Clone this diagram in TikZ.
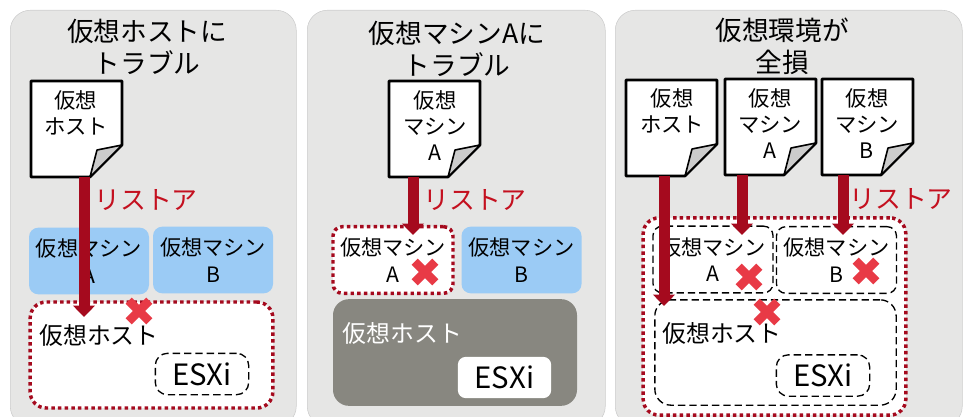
\documentclass[tikz,border=0pt]{standalone}
\usepackage{fontspec}
\setmainfont{Noto Sans CJK JP}
\usetikzlibrary{arrows.meta,shapes.misc}
\definecolor{panelGray}{HTML}{E6E6E5}
\definecolor{vmBlue}{HTML}{9BCBF5}
\definecolor{restoreRed}{HTML}{A50A1E}
\definecolor{labelRed}{HTML}{C4101F}
\definecolor{crossRed}{HTML}{E83A46}
\definecolor{hostGray}{HTML}{888780}
\tikzset{
  panel/.style={draw=black!20, fill=panelGray, rounded corners=15pt, minimum width=#1, minimum height=312pt, inner sep=0pt},
  title/.style={font=\fontsize{20pt}{24pt}\selectfont, align=center},
  docbox/.style={minimum width=68.25pt, minimum height=72pt, inner sep=0pt},
  doctext/.style={font=\fontsize{16pt}{19.5pt}\selectfont, align=center, inner sep=0pt},
  vmtext/.style={font=\fontsize{15.9pt}{20pt}\selectfont, align=center, minimum width=90pt, minimum height=50pt, inner sep=0pt, rounded corners=7pt},
  vmfill/.style={vmtext, fill=vmBlue},
  dotbox/.style={draw=restoreRed, fill=white, line width=2.6pt, dash pattern=on 2.6pt off 2.4pt, rounded corners=12pt, inner sep=0pt},
  dashbox/.style={draw=black, fill=white, line width=1pt, dash pattern=on 5.5pt off 3pt, rounded corners=9pt, inner sep=0pt},
  hostlabel/.style={font=\fontsize{17.9pt}{20pt}\selectfont, inner sep=0pt},
  esxi/.style={font=\fontsize{22pt}{24pt}\selectfont, minimum width=70pt, minimum height=31pt, inner sep=0pt},
  restore/.style={draw=restoreRed, line width=8.25pt, -{Triangle[length=8.5pt, width=16pt]}},
  restorelabel/.style={font=\fontsize{19.4pt}{22pt}\selectfont, text=labelRed, inner sep=0pt},
  crossmark/.style={cross out, draw=crossRed, line width=6.5pt, minimum size=9pt, inner sep=0pt},
}
\begin{document}
\begin{tikzpicture}[x=0.75pt, y=-0.75pt, line join=round]
  \useasboundingbox (0,0) rectangle (968,417);
  \clip (0,0) rectangle (968,417);

  % three panels
  \node[panel=214.5pt, anchor=north west] (panelHost) at (10,10) {};
  \node[panel=223.5pt, anchor=north west] (panelVm) at (307,10) {};
  \node[panel=260.25pt, anchor=north west] (panelAll) at (615,10) {};
  \node[title] (titleHost) at (147,47) {仮想ホストに\\トラブル};
  \node[title] (titleVm) at (457,49) {仮想マシンAに\\トラブル};
  \node[title] (titleAll) at (782,46) {仮想環境が\\全損};

  % backup pages
  \foreach \docname/\x/\y in {docHost/31/81, docVm/389/81, docAllHost/626/80, docAllA/725/79, docAllB/822/79} {
    \draw[fill=white, line width=2pt] (\x,\y) -- ++(91,0) -- ++(0,64) -- ++(-32,32) -- ++(-59,0) -- cycle;
    \draw[fill=black!20, line width=1.2pt] (\x+91,\y+64) -- (\x+66,\y+69) -- (\x+59,\y+96) -- cycle;
    \node[docbox] (\docname) at (\x+45.5,\y+48) {};
  }
  \node[doctext, anchor=north] (docHostText) at (76,90) {仮想\\ホスト};
  \node[doctext, anchor=north] (docVmText) at (435,90) {仮想\\マシン\\A};
  \node[doctext, anchor=north] (docAllHostText) at (672,88) {仮想\\ホスト};
  \node[doctext, anchor=north] (docAllAText) at (770,88) {仮想\\マシン\\A};
  \node[doctext, anchor=north] (docAllBText) at (867,88) {仮想\\マシン\\B};

  % left panel
  \node[vmfill] (vmHostA) at (89,261) {仮想マシン\\A};
  \node[vmfill] (vmHostB) at (213,260) {仮想マシン\\B};
  \node[dotbox, minimum width=182pt, minimum height=79.5pt] (hostBox) at (151.5,355) {};
  \node[hostlabel] (hostText) at (99,335) {仮想ホスト};
  \node[dashbox, esxi] (esxiHost) at (202,374) {ESXi};

  % middle panel
  \node[dotbox, vmtext, draw=restoreRed, line width=2.6pt, dash pattern=on 2.6pt off 2.4pt] (vmVmA) at (393,260) {仮想マシン\\A};
  \node[vmfill] (vmVmB) at (521.5,260) {仮想マシン\\B};
  \node[fill=hostGray, rounded corners=12pt, minimum width=183pt, minimum height=80pt, inner sep=0pt] (hostGrayBox) at (455,352.5) {};
  \node[hostlabel, text=white] (hostGrayText) at (402.5,333) {仮想ホスト};
  \node[esxi, fill=white, rounded corners=6pt] (esxiVm) at (504.5,377.5) {ESXi};

  % right panel
  \node[dotbox, minimum width=197pt, minimum height=148pt] (allBox) at (774.5,316.5) {};
  \node[dashbox, vmtext, line width=1pt] (allVmA) at (713,259.5) {仮想マシン\\A};
  \node[dashbox, vmtext, line width=1pt] (allVmB) at (836.5,260) {仮想マシン\\B};
  \node[dashbox, rounded corners=12pt, minimum width=181pt, minimum height=79pt] (allHost) at (775.5,352.5) {};
  \node[hostlabel] (allHostText) at (722,333) {仮想ホスト};
  \node[dashbox, esxi] (esxiAll) at (823,375.5) {ESXi};

  % restore arrows
  \coordinate (endHost) at (84,317);
  \coordinate (endVm) at (413,235);
  \coordinate (endAllHost) at (664,306);
  \coordinate (endAllA) at (742,235);
  \coordinate (endAllB) at (843,235);
  \draw[restore] (docHost.south -| endHost) -- (endHost);
  \draw[restore] (docVm.south -| endVm) -- (endVm);
  \draw[restore] (docAllHost.south -| endAllHost) -- (endAllHost);
  \draw[restore] (docAllA.south -| endAllA) -- (endAllA);
  \draw[restore] (docAllB.south -| endAllB) -- (endAllB);
  \node[restorelabel] (restoreHost) at (146,200) {リストア};
  \node[restorelabel] (restoreVm) at (475,200) {リストア};
  \node[restorelabel] (restoreAll) at (901,199) {リストア};

  % failure marks
  \foreach \markname/\x/\y in {markHost/139/311, markVm/425/272, markAllA/749/277, markAllB/866/271, markAllHost/767/312} {
    \node[crossmark] (\markname) at (\x,\y) {};
  }
\end{tikzpicture}
\end{document}
